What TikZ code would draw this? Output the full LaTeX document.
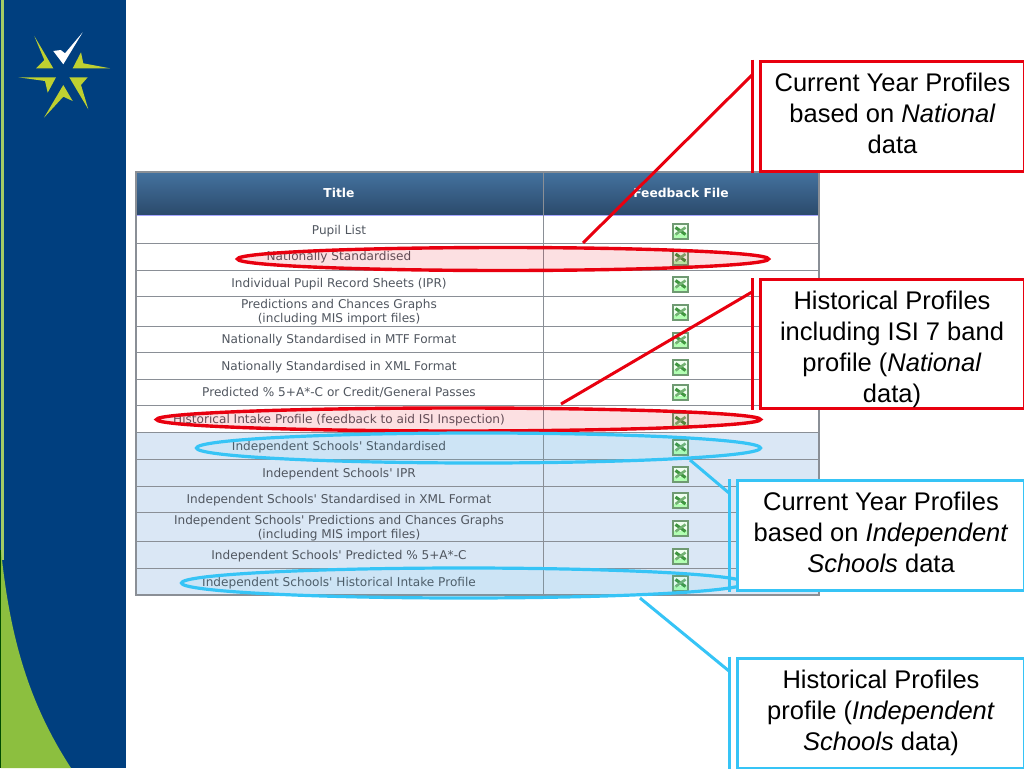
\documentclass[tikz,border=0pt]{standalone}
\usepackage{fontspec}
\setmainfont{Liberation Sans}
\newfontfamily\tablefont{DejaVu Sans}
\usetikzlibrary{positioning,shapes.geometric,calc}

\definecolor{panelblue}{HTML}{003F7F}
\definecolor{panelgreen}{HTML}{8CBF3F}
\definecolor{starlime}{HTML}{BFD030}
\definecolor{headtop}{HTML}{44729F}
\definecolor{headbot}{HTML}{2B4A6B}
\definecolor{rowblue}{HTML}{DAE7F5}
\definecolor{rulegray}{HTML}{8A8F96}
\definecolor{rowtext}{HTML}{50565F}
\definecolor{markred}{HTML}{E8000F}
\definecolor{markblue}{HTML}{36C4F6}
\definecolor{xlgreen}{HTML}{6F9A72}

\tikzset{
    rowlabel/.style={font=\tablefont\fontsize{12.1}{13.5}\selectfont,text=rowtext,align=center,inner sep=0pt},
    headlabel/.style={font=\tablefont\bfseries\fontsize{12.3}{14}\selectfont,text=white,inner sep=0pt},
    redring/.style={ellipse,draw=markred,line width=3.4pt,fill=markred,fill opacity=0.12,draw opacity=1,inner sep=0pt},
    bluering/.style={ellipse,draw=markblue,line width=3.2pt,fill=markblue,fill opacity=0.08,draw opacity=1,inner sep=0pt},
    notebox/.style={draw,line width=3pt,fill=white,inner sep=0pt},
    notetext/.style={inner sep=0pt,align=center,font=\fontsize{25.5}{31}\selectfont},
    xlicon/.pic={
        \fill[xlgreen] (-8.5,-8.5) rectangle (8.5,8.5);
        \fill[green!6!white] (-6.5,-6.5) rectangle (6.5,6.5);
        \fill[green!30!white] (-6.5,3) rectangle (6.5,6.5);
        \draw[green!45!black!75,line width=3pt] (-5,-3.5) -- (5,3.5);
        \draw[green!45!black!55,line width=2.6pt] (-5,3.5) -- (5,-3.5);
    }
}

\begin{document}
\begin{tikzpicture}[x=1pt,y=-1pt]
    \useasboundingbox (0,0) rectangle (1024,768);

    % === PANEL ===
    \fill[panelblue] (0,0) rectangle (126,768);
    \fill[panelgreen!80!white] (1,0) rectangle (4,560);
    \fill[panelgreen] (1,550) .. controls (10,640) and (30,705) .. (71,768) -- (1,768) -- cycle;
    \fill[green!30!black] (0,550) rectangle (1,768);
    % Star
    \fill[white] (53.3,51) -- (60.7,50) -- (65,53.3) -- (82.7,32.3) -- (63.3,64.3) -- cycle;
    \fill[starlime] (34.3,36) -- (53.3,68.3) -- (36,68.3) -- (44.3,60) -- cycle;
    \fill[starlime] (81,52.3) -- (83.3,63.3) -- (110,68.3) -- (72.7,68.3) -- cycle;
    \fill[starlime] (18.3,77.3) -- (56,77.3) -- (47.7,92.7) -- (45,81) -- cycle;
    \fill[starlime] (69.3,77.3) -- (87.7,77.3) -- (81,85) -- (88.3,109.3) -- cycle;
    \fill[starlime] (63.3,85) -- (72.7,101) -- (63.3,96.7) -- (44,117.7) -- cycle;

    % === TABLE ===
    \fill[rowblue] (136,432) rectangle (819,595);
    \shade[top color=headtop,bottom color=headbot] (136,172) rectangle (819,215);
    \draw[line width=1.5pt,blue!35!white] (136,215.5) -- (819,215.5);
    \foreach \y in {243.5,270,296.5,326,352.5,379,405.5,432.5,459.5,486,512.5,541.5,568} {
        \draw[rulegray,line width=0.8pt] (136,\y) -- (819,\y);
    }
    \draw[rulegray,line width=0.8pt] (543.5,172) -- (543.5,595);
    \draw[rulegray,line width=1.2pt] (136,172) rectangle (819,595);
    \node[headlabel] (headtitle) at (339,193) {Title};
    \node[headlabel] (headfile) at (681,193) {Feedback File};
    \foreach \yc/\lab [count=\i] in {
        231/{Pupil List},
        257.5/{Nationally Standardised},
        284/{Individual Pupil Record Sheets (IPR)},
        312/{Predictions and Chances Graphs\\(including MIS import files)},
        340/{Nationally Standardised in MTF Format},
        367/{Nationally Standardised in XML Format},
        392.5/{Predicted \% 5+A*-C or Credit/General Passes},
        420.5/{Historical Intake Profile (feedback to aid ISI Inspection)},
        447/{Independent Schools' Standardised},
        474/{Independent Schools' IPR},
        500.5/{Independent Schools' Standardised in XML Format},
        528/{Independent Schools' Predictions and Chances Graphs\\(including MIS import files)},
        556/{Independent Schools' Predicted \% 5+A*-C},
        583/{Independent Schools' Historical Intake Profile}} {
        \node[rowlabel] (row\i) at (339,\yc) {\lab};
        \pic at (680.5,\yc) {xlicon};
    }

    % === RINGS ===
    \node[redring,minimum width=531pt,minimum height=23pt] (ringnat) at (503,259) {};
    \node[redring,minimum width=604pt,minimum height=23pt] (ringhist) at (458.5,419.5) {};
    \node[bluering,minimum width=564pt,minimum height=30pt] (ringind) at (478.5,448) {};
    \node[bluering,minimum width=564pt,minimum height=30pt] (ringindhist) at (463.5,583) {};

    % === NOTES ===
    \node[notebox,draw=markred,minimum width=264pt,minimum height=110pt] (notenat) at (892,116) {};
    \node[notetext] (textnat) at (892.5,113) {Current Year Profiles\\based on \textit{National}\\data};
    \node[notebox,draw=markred,minimum width=264pt,minimum height=129pt] (notehist) at (892,344) {};
    \node[notetext] (texthist) at (892,349.5) {Historical Profiles\\including ISI 7 band\\profile (\textit{National}\\data)};
    \node[notebox,draw=markblue,minimum width=287pt,minimum height=110pt] (noteind) at (880.5,535.5) {};
    \node[notetext] (textind) at (881,532.5) {Current Year Profiles\\based on \textit{Independent}\\\textit{Schools} data};
    \node[notebox,draw=markblue,minimum width=287pt,minimum height=110pt] (noteindhist) at (880.5,713) {};
    \node[notetext] (textindhist) at (881,713) {Historical Profiles\\profile (\textit{Independent}\\\textit{Schools} data)};

    % Bars and leader lines
    \foreach \note/\tone/\tipx/\tipy/\elby in {
        notenat/markred/583/243/75,
        notehist/markred/561/404/292,
        noteind/markblue/690/460/493,
        noteindhist/markblue/640/598/671} {
        \coordinate (\note top) at ($(\note.north west)+(-6.5,0)$);
        \coordinate (\note bot) at ($(\note.south west)+(-6.5,0)$);
        \coordinate (\note tip) at (\tipx,\tipy);
        \coordinate (\note elbow) at (\note top |- 0,\elby);
        \draw[\tone,line width=3pt] (\note top) -- (\note bot);
        \draw[\tone,line width=3pt] (\note tip) -- (\note elbow);
    }
\end{tikzpicture}
\end{document}
